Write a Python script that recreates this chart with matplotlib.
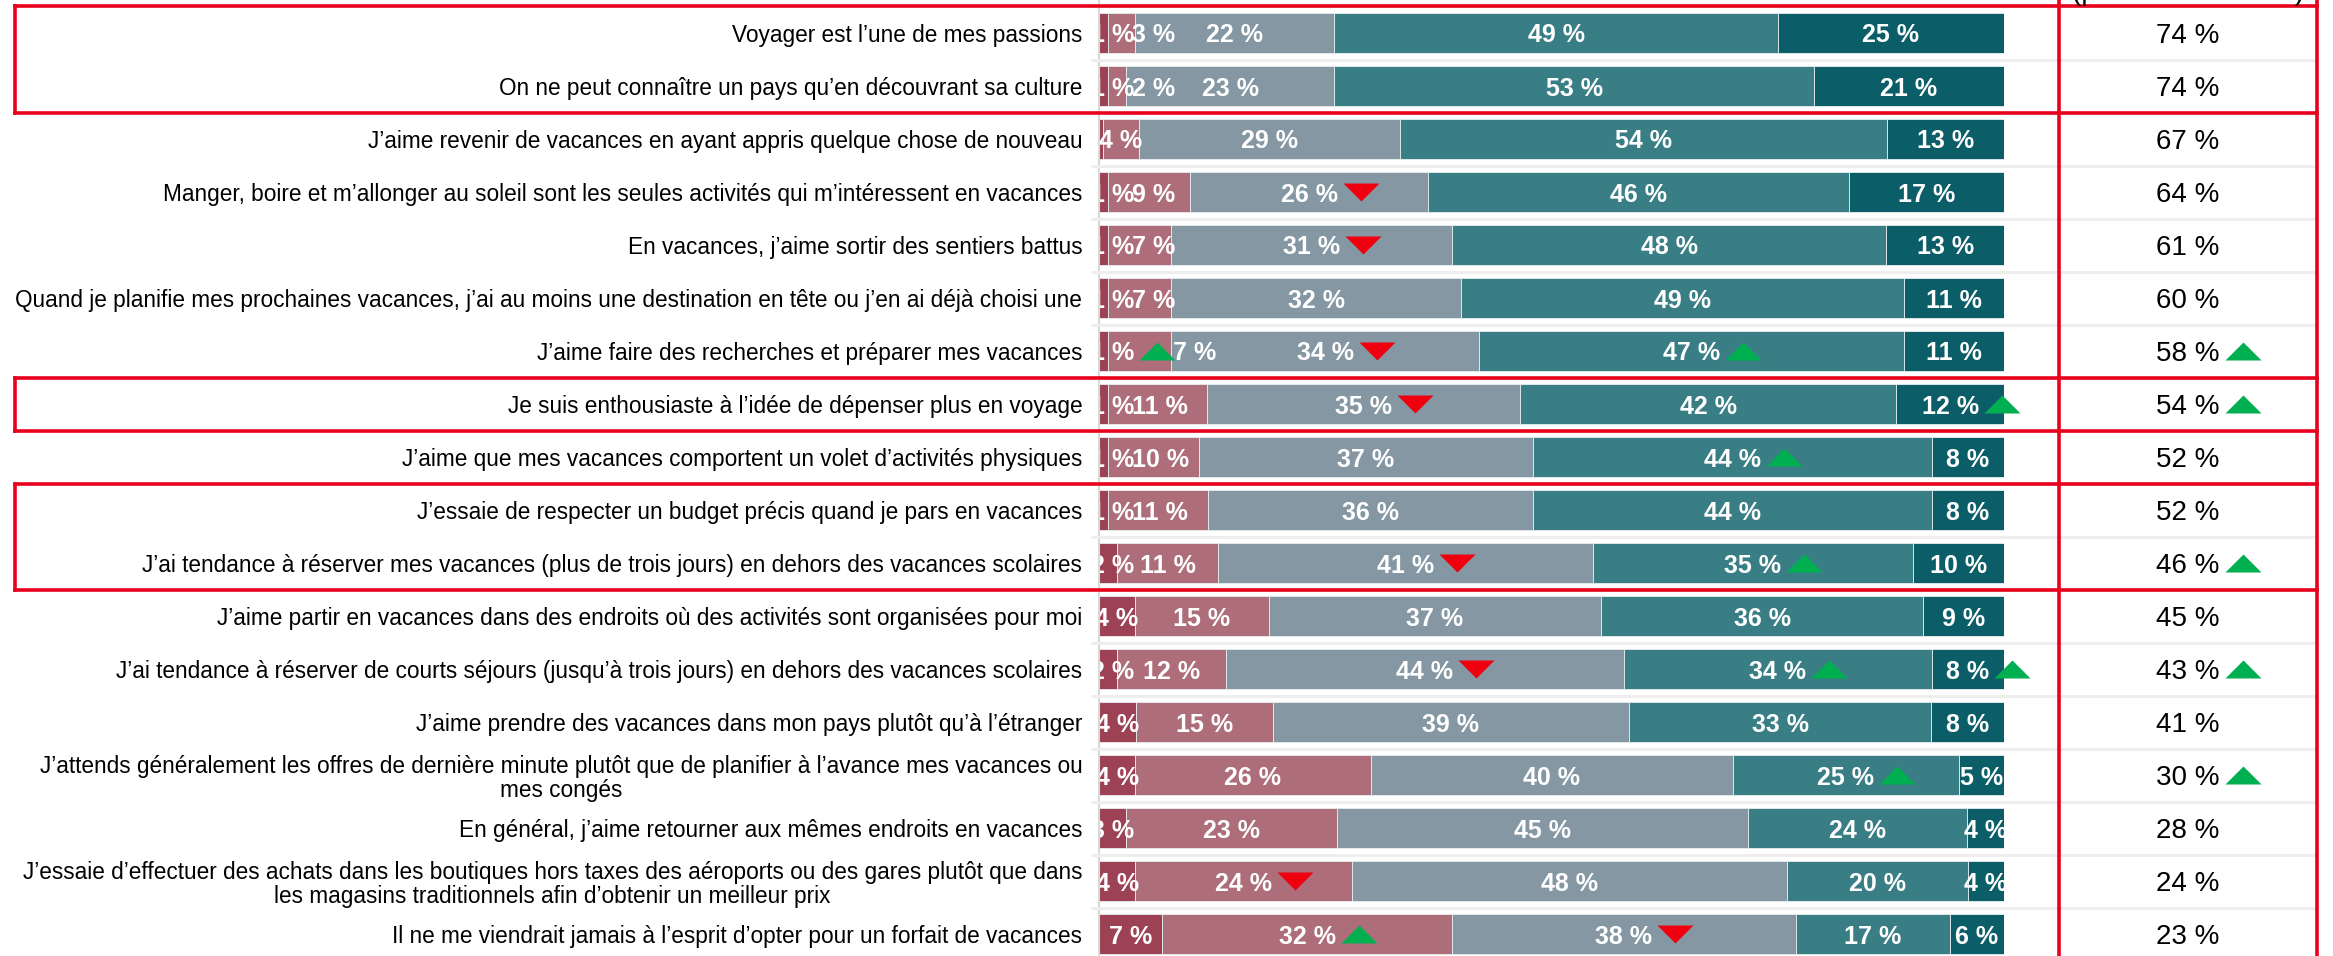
import matplotlib
matplotlib.use("Agg")
import matplotlib.pyplot as plt
import numpy as np
from matplotlib.path import Path

plt.rcParams['font.family'] = ['Liberation Sans', 'DejaVu Sans']

# ---------------- data ----------------
statements = [
    "Voyager est l’une de mes passions",
    "On ne peut connaître un pays qu’en découvrant sa culture",
    "J’aime revenir de vacances en ayant appris quelque chose de nouveau",
    "Manger, boire et m’allonger au soleil sont les seules activités qui m’intéressent en vacances",
    "En vacances, j’aime sortir des sentiers battus",
    "Quand je planifie mes prochaines vacances, j’ai au moins une destination en tête ou j’en ai déjà choisi une",
    "J’aime faire des recherches et préparer mes vacances",
    "Je suis enthousiaste à l’idée de dépenser plus en voyage",
    "J’aime que mes vacances comportent un volet d’activités physiques",
    "J’essaie de respecter un budget précis quand je pars en vacances",
    "J’ai tendance à réserver mes vacances (plus de trois jours) en dehors des vacances scolaires",
    "J’aime partir en vacances dans des endroits où des activités sont organisées pour moi",
    "J’ai tendance à réserver de courts séjours (jusqu’à trois jours) en dehors des vacances scolaires",
    "J’aime prendre des vacances dans mon pays plutôt qu’à l’étranger",
    "J’attends généralement les offres de dernière minute plutôt que de planifier à l’avance mes vacances ou\nmes congés",
    "En général, j’aime retourner aux mêmes endroits en vacances",
    "J’essaie d’effectuer des achats dans les boutiques hors taxes des aéroports ou des gares plutôt que dans\nles magasins traditionnels afin d’obtenir un meilleur prix",
    "Il ne me viendrait jamais à l’esprit d’opter pour un forfait de vacances",
]

tout_pas   = [1, 1, 0.4, 1, 1, 1, 1, 1, 1, 1, 2, 4, 2, 4, 4, 3, 4, 7]
plutot_pas = [3, 2, 4, 9, 7, 7, 7, 11, 10, 11, 11, 15, 12, 15, 26, 23, 24, 32]
ni_ni      = [22, 23, 29, 26, 31, 32, 34, 35, 37, 36, 41, 37, 44, 39, 40, 45, 48, 38]
plutot     = [49, 53, 54, 46, 48, 49, 47, 42, 44, 44, 35, 36, 34, 33, 25, 24, 20, 17]
tout       = [25, 21, 13, 17, 13, 11, 11, 12, 8, 8, 10, 9, 8, 8, 5, 4, 4, 6]
total_accord = [74, 74, 67, 64, 61, 60, 58, 54, 52, 52, 46, 45, 43, 41, 30, 28, 24, 23]

# evolution markers: '+' significant rise, '-' significant drop
trend_tout_pas   = ['', '', '', '', '', '', '+', '', '', '', '', '', '', '', '', '', '', '']
trend_plutot_pas = ['', '', '', '', '', '', '', '', '', '', '', '', '', '', '', '', '-', '+']
trend_ni_ni      = ['', '', '', '-', '-', '', '-', '-', '', '', '-', '', '-', '', '', '', '', '-']
trend_plutot     = ['', '', '', '', '', '', '+', '', '+', '', '+', '', '+', '', '+', '', '', '']
trend_tout       = ['', '', '', '', '', '', '', '+', '', '', '', '', '+', '', '', '', '', '']
trend_total      = ['', '', '', '', '', '', '+', '+', '', '', '+', '', '+', '', '+', '', '', '']

highlight_groups = [(0, 1), (7, 7), (9, 10)]
header_total = "(plutôt + tout à fait)"

# ---------------- style ----------------
colors = ['#9c4254', '#ad6e79', '#8497a3', '#3a7e85', '#0b5d68']
RED_LINE = '#e8001c'
UP_COL = '#00b050'
DOWN_COL = '#f0000f'

W, H = 2333, 956
fig = plt.figure(figsize=(W / 100, H / 100), dpi=100)
pitch, first = 53.0, 33.0
y_top = -first / pitch
y_bot = (H - first) / pitch

ax = fig.add_axes([1099 / W, 0, 905 / W, 1])
ax.set_xlim(0, 100)
ax.set_ylim(y_bot, y_top)

n = len(statements)
ypos = np.arange(n)
series = [tout_pas, plutot_pas, ni_ni, plutot, tout]
trends = [trend_tout_pas, trend_plutot_pas, trend_ni_ni, trend_plutot, trend_tout]
totals = np.sum(np.array(series, float), axis=0)

left = np.zeros(n)
row_labels = [[] for _ in range(n)]
for vals, col, tr in zip(series, colors, trends):
    v = np.array(vals, float)
    w = v / totals * 100
    ax.barh(ypos, w, left=left, height=0.74, color=col,
            edgecolor='#e8eef0', linewidth=0.6, zorder=2)
    for i in range(n):
        if round(vals[i]) >= 1:
            t = ax.text(left[i] + w[i] / 2, i, f"{round(vals[i])} %",
                        ha='center', va='center_baseline', color='white',
                        fontsize=18, fontweight='bold', clip_on=True, zorder=4)
            row_labels[i].append((t, tr[i]))
    left += w

ax.set_yticks(ypos, labels=statements, fontsize=16.3, color='black')
for lab in ax.get_yticklabels():
    lab.set_multialignment('center')
    lab.set_linespacing(1.1)
ax.tick_params(axis='y', length=0, pad=12)
ax.tick_params(axis='x', bottom=False, labelbottom=False)
for s in ['top', 'right', 'bottom']:
    ax.spines[s].set_visible(False)
ax.spines['left'].set_color('#d9d9d9')
ax.spines['left'].set_linewidth(1.5)
ax.spines['left'].set_zorder(5)

# overlay axes (figure fraction in x, rows in y)
ov = fig.add_axes([0, 0, 1, 1], facecolor='none')
ov.set_xlim(0, 1)
ov.set_ylim(y_bot, y_top)
ov.axis('off')

x_grid0, x_col_l, x_col_r, x_box_l = 1091 / W, 2059 / W, 2317 / W, 15 / W
for b in np.arange(n + 1) - 0.5:
    ov.plot([x_grid0, x_col_r], [b, b], color='#eeeeee', lw=2.2, zorder=0,
            solid_capstyle='butt')

total_labels = []
for i, v in enumerate(total_accord):
    t = ov.text(2188 / W, i, f"{v} %", ha='center', va='center_baseline',
                fontsize=20, color='black')
    total_labels.append((t, i, trend_total[i]))

lw_red = 2.6
for a, b in highlight_groups:
    top, bot = a - 0.5, b + 0.5
    ov.plot([x_box_l, x_col_r], [top, top], color=RED_LINE, lw=lw_red, solid_capstyle='projecting')
    ov.plot([x_box_l, x_col_r], [bot, bot], color=RED_LINE, lw=lw_red, solid_capstyle='projecting')
    ov.plot([x_box_l, x_box_l], [top, bot], color=RED_LINE, lw=lw_red, solid_capstyle='projecting')
for xx in (x_col_l, x_col_r):
    ov.plot([xx, xx], [y_top, y_bot], color=RED_LINE, lw=lw_red)

# column header, mostly above the visible area as in the source
fig.text(2188 / W, 1 - 0.5 / H, header_total, ha='center', va='baseline',
         fontsize=20, color='black')

tri_w_px = 36
tri_gap_px = 5

# ---- nudge crowded labels of thin segments to the right ----
fig.canvas.draw()
renderer = fig.canvas.get_renderer()
px_per_unit = ax.transData.transform((1, 0))[0] - ax.transData.transform((0, 0))[0]
ax_left_disp = ax.transData.transform((0, 0))[0]
for i in range(n):
    prev_right = None
    for k, (t, tr) in enumerate(row_labels[i]):
        bb = t.get_window_extent(renderer)
        new_left = bb.x0
        if k == 0:
            new_left = max(new_left, ax_left_disp - 8)
        if prev_right is not None:
            new_left = max(new_left, prev_right - 2)
        shift = new_left - bb.x0
        if shift > 0:
            x0, y0 = t.get_position()
            t.set_position((x0 + shift / px_per_unit, y0))
        prev_right = bb.x1 + shift + (tri_gap_px + tri_w_px if tr else 0)

# ---- triangles next to labels ----
up_marker = Path([(-1, -0.5), (1, -0.5), (0, 0.5), (-1, -0.5)],
                 [Path.MOVETO, Path.LINETO, Path.LINETO, Path.CLOSEPOLY])
down_marker = Path([(-1, 0.5), (1, 0.5), (0, -0.5), (-1, 0.5)],
                   [Path.MOVETO, Path.LINETO, Path.LINETO, Path.CLOSEPOLY])
fig.canvas.draw()
renderer = fig.canvas.get_renderer()

pending = []
for i in range(n):
    for t, tr in row_labels[i]:
        if tr:
            pending.append((ax, t, i, tr))
for t, i, tr in total_labels:
    if tr:
        pending.append((ov, t, i, tr))

for axx, t, i, tr in pending:
    bb = t.get_window_extent(renderer)
    xd = bb.x1 + tri_gap_px + tri_w_px / 2
    xdata = axx.transData.inverted().transform((xd, 0))[0]
    axx.plot([xdata], [i], linestyle='none',
             marker=up_marker if tr == '+' else down_marker,
             markersize=tri_w_px * 0.72, color=UP_COL if tr == '+' else DOWN_COL,
             markeredgewidth=0, clip_on=False, zorder=6)

fig.savefig("out.png", dpi=100)
